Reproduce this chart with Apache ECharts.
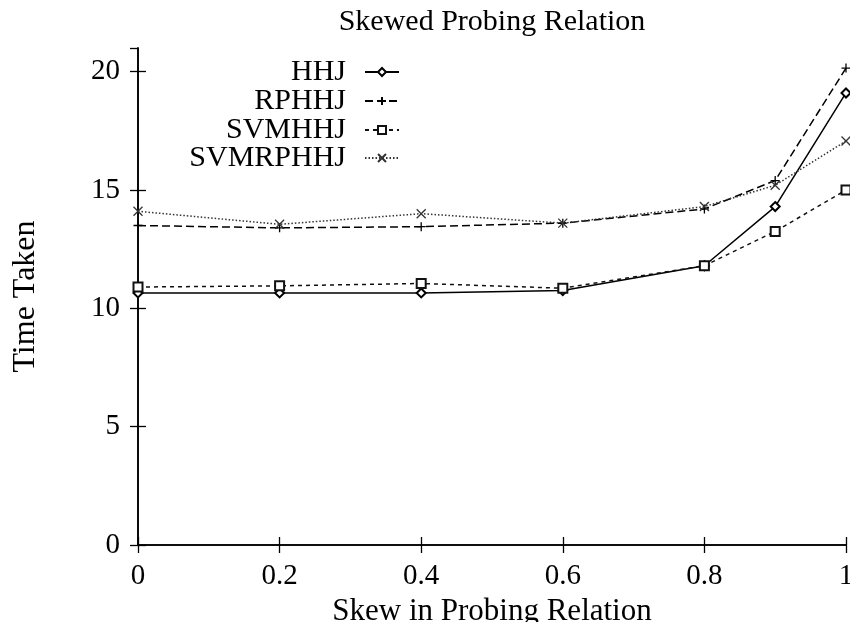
<!DOCTYPE html>
<html>
<head>
<meta charset="utf-8">
<script src="https://cdn.jsdelivr.net/npm/echarts@6/dist/echarts.min.js"></script>
<style>
  html, body { margin: 0; padding: 0; background: #fff; }
  #chart { width: 850px; height: 622px; }
</style>
</head>
<body>
<div id="chart"></div>
<script>
// skew values on the x axis
var skew = [0, 0.2, 0.4, 0.6, 0.8, 0.9, 1]
// time taken per algorithm
var hhj = [10.65, 10.65, 10.65, 10.75, 11.8, 14.3, 19.1]
var rphhj = [13.5, 13.4, 13.45, 13.6, 14.2, 15.4, 20.15]
var svmhhj = [10.9, 10.95, 11.05, 10.85, 11.8, 13.25, 15.0]
var svmrphhj = [14.1, 13.55, 14.0, 13.6, 14.3, 15.2, 17.07]
var names = ['HHJ', 'RPHHJ', 'SVMHHJ', 'SVMRPHHJ']

var FONT = 'Liberation Serif'
var PLUS = 'path://M0,5L10,5M5,0L5,10'
var CROSS = 'path://M0,0L10,10M10,0L0,10'

function pairs(ys) {
  return skew.map(function (x, i) { return [x, ys[i]] })
}

function makeSeries(name, ys, symbol, dash, color) {
  return {
    name: name,
    type: 'line',
    data: pairs(ys),
    symbol: symbol,
    symbolSize: 9,
    showAllSymbol: true,
    lineStyle: { color: color, width: 1.5, type: dash },
    itemStyle: { color: color, borderColor: color, borderWidth: 1.3 },
    emphasis: { disabled: true }
  }
}

// one legend per row so the line samples line up on the right
var legendCenters = [72, 101, 130, 158]
var legends = names.map(function (n, i) {
  return {
    data: [n],
    right: 450,
    top: legendCenters[i] - 15,
    orient: 'vertical',
    align: 'right',
    padding: 0,
    itemWidth: 34,
    itemHeight: 10,
    textStyle: { fontFamily: FONT, fontSize: 30, lineHeight: 30, color: '#000', padding: [0, 14, 0, 0] }
  }
})

var axisLineStyle = { lineStyle: { color: '#000', width: 1.6 } }
var tickStyle = { show: true, inside: true, length: 8, lineStyle: { color: '#000', width: 1.3 } }

var chart = echarts.init(document.getElementById('chart'))
chart.setOption({
  animation: false,
  backgroundColor: '#fff',
  legend: legends,
  grid: { left: 138, right: 4, top: 48, bottom: 77, outerBoundsMode: 'none' },
  xAxis: [{
    type: 'value',
    min: 0,
    max: 1,
    interval: 0.2,
    name: 'Skew in Probing Relation',
    nameLocation: 'middle',
    nameGap: 39,
    nameTextStyle: { fontFamily: FONT, fontSize: 31, color: '#000' },
    axisLine: axisLineStyle,
    axisTick: tickStyle,
    splitLine: { show: false },
    axisLabel: { fontFamily: FONT, fontSize: 29, color: '#000', margin: 17 }
  }, {
    type: 'value',
    position: 'top',
    min: 0,
    max: 1,
    interval: 0.2,
    name: 'Skewed Probing Relation',
    nameLocation: 'middle',
    nameGap: 11,
    nameTextStyle: { fontFamily: FONT, fontSize: 30, color: '#000' },
    axisLine: axisLineStyle,
    axisTick: tickStyle,
    splitLine: { show: false },
    axisLabel: { show: false }
  }],
  yAxis: [{
    type: 'value',
    min: 0,
    max: 21,
    interval: 5,
    name: 'Time Taken',
    nameLocation: 'middle',
    nameGap: 96,
    nameTextStyle: { fontFamily: FONT, fontSize: 32, color: '#000' },
    axisLine: axisLineStyle,
    axisTick: tickStyle,
    splitLine: { show: false },
    axisLabel: { fontFamily: FONT, fontSize: 29, color: '#000', margin: 18, showMaxLabel: false }
  }, {
    type: 'value',
    position: 'right',
    min: 0,
    max: 21,
    interval: 5,
    axisLine: axisLineStyle,
    axisTick: tickStyle,
    splitLine: { show: false },
    axisLabel: { show: false }
  }],
  series: [
    makeSeries(names[0], hhj, 'emptyDiamond', 'solid', '#000'),
    makeSeries(names[1], rphhj, PLUS, [8, 4], '#000'),
    makeSeries(names[2], svmhhj, 'emptyRect', [4, 4], '#111'),
    makeSeries(names[3], svmrphhj, CROSS, [1.5, 2], '#333')
  ]
})
</script>
</body>
</html>
